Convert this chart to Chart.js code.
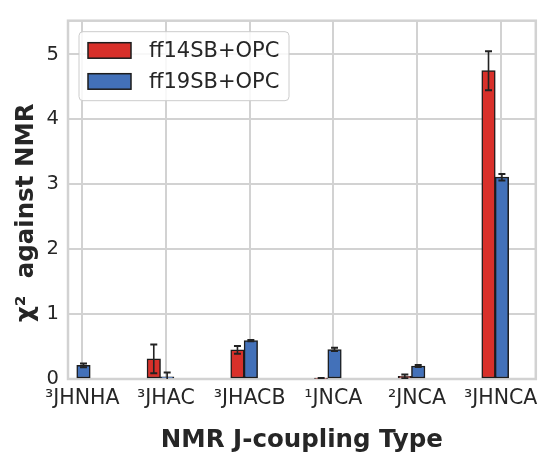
<!doctype html>
<html lang="en">
  <head>
    <title>NMR J-coupling chi2</title>
    <style>
      html, body { margin: 0; padding: 0; background: #ffffff; }
      #box { width: 545px; height: 453px; }
    </style>
  </head>
  <body>
    <div id="box"><canvas id="chart"></canvas></div>
  <script src="https://cdn.jsdelivr.net/npm/chart.js"></script>
<script>
  // data
  const categories = ['\u00b3JHNHA', '\u00b3JHAC', '\u00b3JHACB', '\u00b9JNCA', '\u00b2JNCA', '\u00b3JHNCA'];
  const ff14 = [null, 0.31, 0.45, 0.01, 0.04, 4.75];
  const ff14Err = [0, 0.22, 0.06, 0.005, 0.03, 0.30];
  const ff19 = [0.21, 0.035, 0.59, 0.455, 0.20, 3.11];
  const ff19Err = [0.03, 0.065, 0.01, 0.025, 0.015, 0.05];
  const seriesNames = ['ff14SB+OPC', 'ff19SB+OPC'];
  const yTicks = [0, 1, 2, 3, 4, 5];

  const RED = '#d8302a';
  const BLUE = '#4371b9';
  const EDGE = '#1c1c1c';
  const GRID = '#d2d2d2';
  const TEXT = '#262626';
  const FONT = "'DejaVu Sans'";

  // bars sit a little left of each tick, like in the original plot
  const shifts = [-0.145, 0.015];

  function points(vals, shift) {
    return vals.map((v, i) => ({ x: i + shift, y: v }));
  }

  const errorBars = {
    id: 'errorBars',
    afterDatasetsDraw(chart) {
      const ctx = chart.ctx;
      const ys = chart.scales.y;
      const errs = [ff14Err, ff19Err];
      const area = chart.chartArea;
      ctx.save();
      ctx.beginPath();
      ctx.rect(area.left, area.top, area.right - area.left, area.bottom - area.top);
      ctx.clip();
      ctx.strokeStyle = '#222222';
      chart.data.datasets.forEach((ds, d) => {
        const meta = chart.getDatasetMeta(d);
        meta.data.forEach((bar, i) => {
          const v = ds.data[i].y;
          if (v === null) return;
          const e = errs[d][i];
          const top = ys.getPixelForValue(v + e);
          const bot = ys.getPixelForValue(v - e);
          ctx.lineWidth = 1.6;
          ctx.beginPath();
          ctx.moveTo(bar.x, top);
          ctx.lineTo(bar.x, bot);
          ctx.stroke();
          ctx.lineWidth = 2;
          ctx.beginPath();
          ctx.moveTo(bar.x - 3.5, top);
          ctx.lineTo(bar.x + 3.5, top);
          ctx.moveTo(bar.x - 3.5, bot);
          ctx.lineTo(bar.x + 3.5, bot);
          ctx.stroke();
        });
      });
      ctx.restore();
    }
  };

  const frame = {
    id: 'frame',
    beforeDatasetsDraw(chart) {
      const a = chart.chartArea;
      const ctx = chart.ctx;
      ctx.save();
      ctx.strokeStyle = GRID;
      ctx.lineWidth = 2.5;
      ctx.strokeRect(a.left, a.top, a.right - a.left, a.bottom - a.top);
      ctx.restore();
    }
  };

  const boxLegend = {
    id: 'boxLegend',
    afterDraw(chart) {
      const a = chart.chartArea;
      const ctx = chart.ctx;
      const x0 = a.left + 11, y0 = a.top + 11;
      ctx.save();
      ctx.beginPath();
      ctx.roundRect(x0, y0, 210, 69, 4);
      ctx.fillStyle = 'rgba(255,255,255,0.85)';
      ctx.fill();
      ctx.strokeStyle = '#cccccc';
      ctx.lineWidth = 1;
      ctx.stroke();
      [RED, BLUE].forEach((c, k) => {
        const py = y0 + 11 + k * 31;
        ctx.fillStyle = c;
        ctx.fillRect(x0 + 9, py, 43, 15.5);
        ctx.strokeStyle = EDGE;
        ctx.lineWidth = 1.5;
        ctx.strokeRect(x0 + 9, py, 43, 15.5);
        ctx.fillStyle = TEXT;
        ctx.font = '21px ' + FONT;
        ctx.textBaseline = 'middle';
        ctx.fillText(seriesNames[k], x0 + 70, py + 8.5);
      });
      ctx.restore();
    }
  };

  new Chart(document.getElementById('chart'), {
    type: 'bar',
    data: {
      datasets: [
        { label: seriesNames[0], data: points(ff14, shifts[0]), backgroundColor: RED },
        { label: seriesNames[1], data: points(ff19, shifts[1]), backgroundColor: BLUE }
      ]
    },
    options: {
      responsive: true,
      maintainAspectRatio: false,
      animation: false,
      layout: { padding: { top: 15, right: 9, left: 0, bottom: 0 } },
      datasets: {
        bar: {
          grouped: false,
          barThickness: 13.5,
          borderWidth: 1.5,
          borderColor: EDGE,
          borderSkipped: false
        }
      },
      scales: {
        x: {
          type: 'linear',
          offset: false,
          min: -0.17,
          max: 5.42,
          afterBuildTicks(s) { s.ticks = categories.map((c, i) => ({ value: i })); },
          afterFit(s) { s.height = 74; },
          grid: { color: GRID, lineWidth: 2, drawTicks: false, offset: false },
          border: { display: false },
          ticks: {
            callback: (v) => categories[v],
            font: { family: FONT, size: 20.5 },
            color: TEXT,
            padding: 7,
            maxRotation: 0
          },
          title: {
            display: true,
            text: 'NMR J-coupling Type',
            font: { family: FONT, size: 24.5, weight: 'bold', lineHeight: 1 },
            color: TEXT,
            padding: 0
          }
        },
        y: {
          min: 0,
          max: 5.52,
          afterBuildTicks(s) { s.ticks = yTicks.map((v) => ({ value: v })); },
          afterFit(s) { s.width = 68; },
          grid: { color: GRID, lineWidth: 2, drawTicks: false },
          border: { display: false },
          ticks: {
            font: { family: FONT, size: 19.5 },
            color: TEXT,
            padding: 9
          },
          title: {
            display: true,
            // trailing spaces push the rotated label down a little, as in the original
            text: '\u03c7\u00b2  against NMR   ',
            font: { family: FONT, size: 24.5, weight: 'bold', lineHeight: 1 },
            color: TEXT,
            padding: { top: 14, bottom: 0 }
          }
        }
      },
      plugins: {
        legend: { display: false },
        tooltip: { enabled: false }
      }
    },
    plugins: [frame, errorBars, boxLegend]
  });
</script>
  </body>
</html>
